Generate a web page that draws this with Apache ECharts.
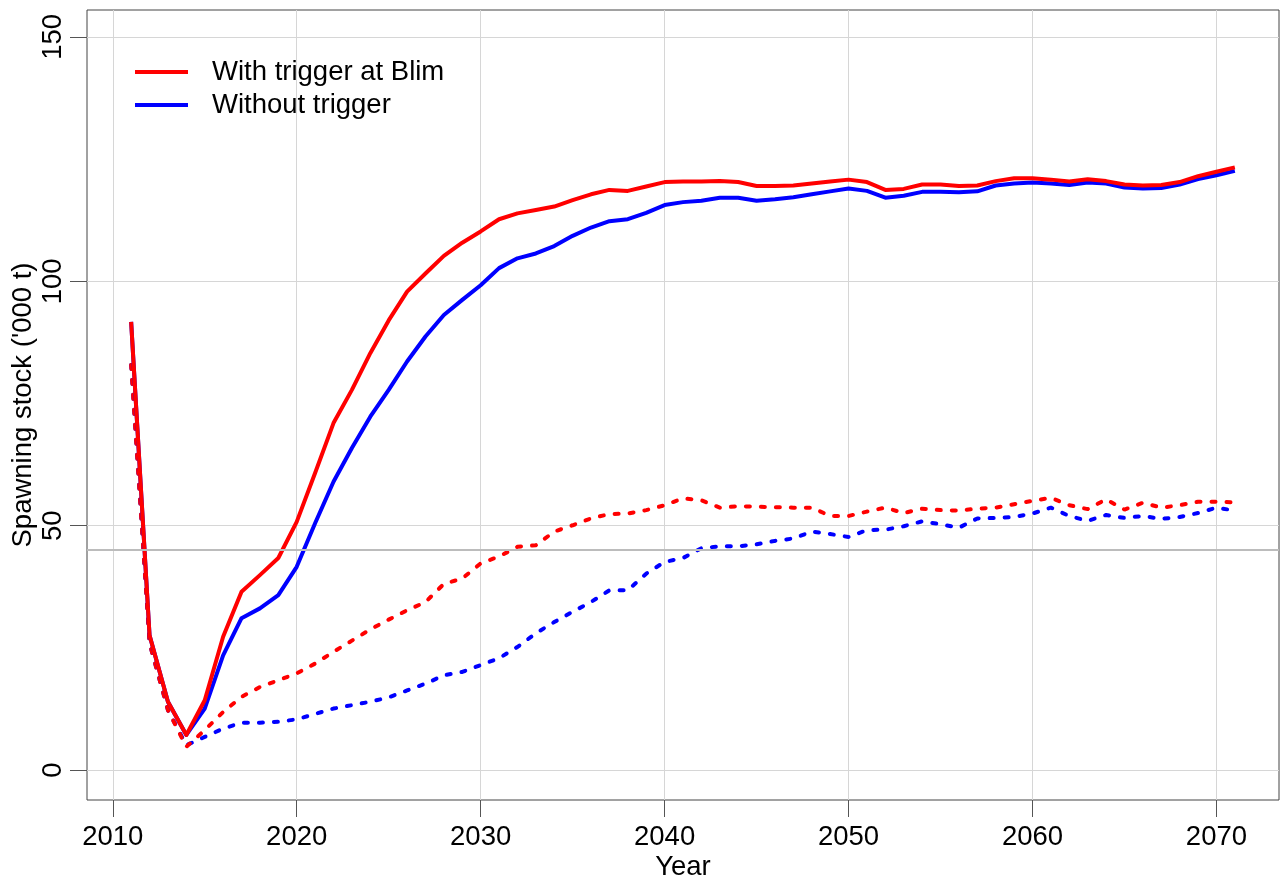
<!DOCTYPE html>
<html>
<head>
<meta charset="utf-8">
<script src="https://cdn.jsdelivr.net/npm/echarts@6/dist/echarts.min.js"></script>
<style>
  html, body { margin: 0; padding: 0; background: #ffffff; }
  #chart { width: 1282px; height: 884px; }
</style>
</head>
<body>
<div id="chart"></div>
<script>
// Projection years
const years = [
  2011, 2012, 2013, 2014, 2015, 2016, 2017, 2018, 2019, 2020,
  2021, 2022, 2023, 2024, 2025, 2026, 2027, 2028, 2029, 2030,
  2031, 2032, 2033, 2034, 2035, 2036, 2037, 2038, 2039, 2040,
  2041, 2042, 2043, 2044, 2045, 2046, 2047, 2048, 2049, 2050,
  2051, 2052, 2053, 2054, 2055, 2056, 2057, 2058, 2059, 2060,
  2061, 2062, 2063, 2064, 2065, 2066, 2067, 2068, 2069, 2070,
  2071
];

// Spawning stock ('000 t), central projection, with the Blim trigger
const withTriggerMedian = [
  91.7, 27.6, 14.0, 7.2, 14.3, 27.3, 36.5, 39.9, 43.4, 50.8,
  60.8, 71.0, 77.8, 85.3, 92.0, 97.9, 101.6, 105.2, 107.9, 110.2,
  112.7, 113.9, 114.6, 115.3, 116.6, 117.8, 118.7, 118.5, 119.4, 120.3,
  120.4, 120.4, 120.5, 120.3, 119.5, 119.5, 119.6, 120.0, 120.4, 120.8,
  120.3, 118.7, 118.9, 119.8, 119.8, 119.5, 119.6, 120.5, 121.1, 121.1,
  120.8, 120.4, 120.9, 120.5, 119.8, 119.6, 119.7, 120.3, 121.5, 122.4,
  123.3
];

// Central projection without the trigger
const withoutTriggerMedian = [
  91.7, 27.6, 14.0, 7.2, 12.6, 23.5, 31.1, 33.1, 35.8, 41.6,
  50.5, 59.0, 65.9, 72.3, 77.8, 83.6, 88.7, 93.1, 96.2, 99.2,
  102.7, 104.7, 105.7, 107.2, 109.3, 111.0, 112.3, 112.7, 114.0, 115.6,
  116.2, 116.5, 117.1, 117.1, 116.5, 116.8, 117.2, 117.8, 118.4, 119.0,
  118.5, 117.1, 117.5, 118.3, 118.3, 118.2, 118.4, 119.6, 120.0, 120.2,
  120.0, 119.7, 120.2, 120.0, 119.2, 119.0, 119.1, 119.8, 120.9, 121.7,
  122.6
];

// Lower percentile, with the trigger
const withTriggerLow = [
  82.9, 26.0, 12.3, 4.8, 8.2, 11.9, 15.0, 17.0, 18.4, 19.8,
  21.8, 24.2, 26.5, 28.8, 30.8, 32.7, 34.4, 38.1, 39.2, 42.3,
  43.7, 45.7, 46.0, 48.8, 50.1, 51.5, 52.4, 52.5, 53.2, 54.2,
  55.6, 55.2, 53.7, 54.0, 53.9, 53.8, 53.7, 53.7, 52.0, 52.0,
  52.9, 53.7, 52.6, 53.5, 53.2, 53.1, 53.5, 53.7, 54.4, 55.1,
  55.7, 54.2, 53.4, 55.4, 53.3, 54.7, 53.7, 54.2, 54.9, 54.9,
  54.8
];

// Lower percentile, without the trigger
const withoutTriggerLow = [
  82.9, 26.0, 12.3, 5.1, 6.8, 8.5, 9.7, 9.7, 9.9, 10.4,
  11.5, 12.6, 13.3, 14.0, 14.9, 16.3, 17.7, 19.4, 20.1, 21.5,
  22.9, 25.2, 28.0, 30.3, 32.4, 34.4, 36.8, 36.8, 40.2, 42.6,
  43.4, 45.4, 45.8, 45.8, 46.2, 46.9, 47.4, 48.8, 48.3, 47.7,
  49.1, 49.2, 49.9, 50.9, 50.3, 49.6, 51.5, 51.6, 51.8, 52.5,
  53.7, 52.0, 51.0, 52.2, 51.6, 52.0, 51.4, 51.8, 52.6, 53.7,
  53.1
];

// Reference level and axis ticks
const blim = 45;
const xTicks = [2010, 2020, 2030, 2040, 2050, 2060, 2070];
const yTicks = [0, 50, 100, 150];

const FONT = '"Liberation Sans", Arial, Helvetica, sans-serif';
const FS = 27.5;
const pairs = (ys) => years.map((y, i) => [y, ys[i]]);

const chart = echarts.init(document.getElementById('chart'), null, { renderer: 'canvas' });

const solid = (name, color, data) => ({
  name, type: 'line', data: pairs(data), symbol: 'none', smooth: false,
  lineStyle: { color, width: 4, type: 'solid', join: 'round' },
  itemStyle: { color }, z: 4, animation: false
});
const dotted = (name, color, data) => ({
  name, type: 'line', data: pairs(data), symbol: 'none', smooth: false,
  lineStyle: { color, width: 4, type: [4, 11], cap: 'round' },
  itemStyle: { color }, z: 3, animation: false
});

const option = {
  backgroundColor: '#ffffff',
  animation: false,
  grid: {
    left: 87, right: 3, top: 10, bottom: 84,
    outerBoundsMode: 'none',
    containLabel: false,
    show: true, borderColor: '#444444', borderWidth: 1,
    backgroundColor: 'transparent'
  },
  legend: {
    orient: 'vertical',
    left: 130, top: 53,
    data: ['With trigger at Blim', 'Without trigger'],
    icon: 'rect',
    itemWidth: 53, itemHeight: 4, itemGap: 5,
    textStyle: { fontFamily: FONT, fontSize: FS, color: '#000', padding: [0, 0, 0, 19] },
    selectedMode: false
  },
  xAxis: {
    type: 'value',
    min: 2008.6, max: 2073.4,
    name: 'Year', nameLocation: 'middle', nameGap: 53,
    nameMoveOverlap: false,
    nameTextStyle: { fontFamily: FONT, fontSize: FS, color: '#000' },
    axisLine: { show: false, onZero: false },
    axisTick: { show: true, length: 17, inside: false, customValues: xTicks,
      lineStyle: { color: '#555555', width: 1 } },
    axisLabel: { customValues: xTicks, margin: 23, fontFamily: FONT, fontSize: FS, color: '#000',
      formatter: (v) => String(v) },
    splitLine: { show: true, lineStyle: { color: '#d6d6d6', width: 1 } }
  },
  yAxis: {
    type: 'value',
    min: -6.1, max: 155.5,
    name: "Spawning stock ('000 t)", nameLocation: 'middle', nameGap: 50,
    nameMoveOverlap: false,
    nameTextStyle: { fontFamily: FONT, fontSize: FS, color: '#000' },
    axisLine: { show: false, onZero: false },
    axisTick: { show: true, length: 17, inside: false, customValues: yTicks,
      lineStyle: { color: '#555555', width: 1 } },
    axisLabel: { customValues: yTicks, margin: 20, rotate: 90, fontFamily: FONT, fontSize: FS, color: '#000',
      formatter: (v) => String(v) },
    splitLine: { show: true, lineStyle: { color: '#d6d6d6', width: 1 } }
  },
  series: [
    dotted('Without trigger, lower percentile', '#0000ff', withoutTriggerLow),
    solid('Without trigger', '#0000ff', withoutTriggerMedian),
    dotted('With trigger at Blim, lower percentile', '#ff0000', withTriggerLow),
    Object.assign(solid('With trigger at Blim', '#ff0000', withTriggerMedian), {
      markLine: {
        silent: true, symbol: 'none', animation: false,
        label: { show: false },
        lineStyle: { color: '#bcbcbc', width: 2, type: 'solid' },
        data: [{ yAxis: blim }]
      }
    })
  ]
};

chart.setOption(option);
</script>
</body>
</html>
